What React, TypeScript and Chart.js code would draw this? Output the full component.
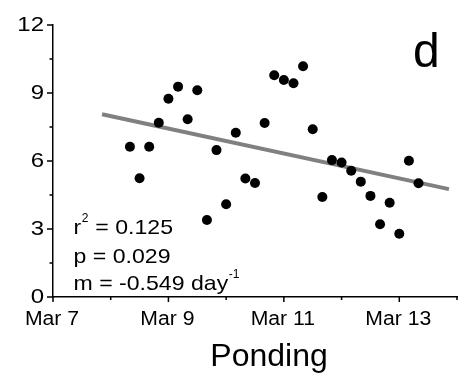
import React, { useEffect, useRef } from "react";
import { Chart, registerables } from "chart.js";

Chart.register(...registerables);

// Data (x: day of March, y: value)
const xDays = [8.333, 8.5, 8.667, 8.833, 9.0, 9.167, 9.333, 9.5, 9.667, 9.833, 10.0, 10.167, 10.333, 10.5, 10.667, 10.833, 11.0, 11.167, 11.333, 11.5, 11.667, 11.833, 12.0, 12.167, 12.333, 12.5, 12.667, 12.833, 13.0, 13.167, 13.333];
const yValues = [6.63, 5.24, 6.63, 7.69, 8.75, 9.28, 7.84, 9.12, 3.4, 6.48, 4.09, 7.25, 5.23, 5.03, 7.68, 9.78, 9.57, 9.43, 10.18, 7.4, 4.41, 6.04, 5.93, 5.57, 5.09, 4.46, 3.21, 4.16, 2.79, 6.01, 5.02];
const fitX = [7.85, 13.86];
const fitY = [8.06, 4.76];

const xMajorTicks = [7, 9, 11, 13];
const xMinorTicks = [8, 10, 12, 14];
const xTickLabels = ["Mar 7", "Mar 9", "Mar 11", "Mar 13"];
const yMajorTicks = [0, 3, 6, 9, 12];
const yMinorTicks = [1.5, 4.5, 7.5, 10.5];
const yTickLabels = ["0", "3", "6", "9", "12"];

const statsLines = [
  { main: "r", sup: "2", rest: " = 0.125" },
  { main: "p = 0.029", sup: "", rest: "" },
  { main: "m = -0.549 day", sup: "-1", rest: "" },
];

const FONT = "'Liberation Sans', Arial, sans-serif";

function drawText(ctx: CanvasRenderingContext2D, text: string, x: number, y: number, size: number, sx: number, align: CanvasTextAlign, baseline: CanvasTextBaseline) {
  ctx.save();
  ctx.font = `${size}px ${FONT}`;
  ctx.textAlign = align;
  ctx.textBaseline = baseline;
  ctx.translate(x, y);
  ctx.scale(sx, 1);
  ctx.fillText(text, 0, 0);
  ctx.restore();
}

const overlayPlugin = {
  id: "overlay",
  afterDraw(chart: any) {
    const ctx: CanvasRenderingContext2D = chart.ctx;
    const xs = chart.scales.x;
    const ys = chart.scales.y;
    const area = chart.chartArea;
    ctx.save();
    ctx.strokeStyle = "#000";
    ctx.lineWidth = 1.5;
    ctx.beginPath();
    xMajorTicks.forEach((v) => {
      const px = xs.getPixelForValue(v);
      ctx.moveTo(px, area.bottom);
      ctx.lineTo(px, area.bottom + 5);
    });
    xMinorTicks.forEach((v) => {
      const px = xs.getPixelForValue(v);
      ctx.moveTo(px, area.bottom);
      ctx.lineTo(px, area.bottom + 3);
    });
    yMajorTicks.forEach((v) => {
      const py = ys.getPixelForValue(v);
      ctx.moveTo(area.left, py);
      ctx.lineTo(area.left - 6, py);
    });
    yMinorTicks.forEach((v) => {
      const py = ys.getPixelForValue(v);
      ctx.moveTo(area.left, py);
      ctx.lineTo(area.left - 3.5, py);
    });
    ctx.stroke();

    ctx.fillStyle = "#000";
    yMajorTicks.forEach((v, i) => {
      const py = ys.getPixelForValue(v);
      drawText(ctx, yTickLabels[i], 44, py, 20, 1.2, "right", "middle");
    });
    xMajorTicks.forEach((v, i) => {
      const px = xs.getPixelForValue(v);
      drawText(ctx, xTickLabels[i], px - 1, 325, 20, 1.06, "center", "alphabetic");
    });
    drawText(ctx, "Ponding", 269, 366, 32, 1, "center", "alphabetic");
    drawText(ctx, "d", 413, 67, 48, 1, "left", "alphabetic");

    const baselines = [233.5, 262.5, 289.5];
    const sx = 1.1;
    const size = 21;
    statsLines.forEach((ln, i) => {
      const y = baselines[i];
      let x = 73.5;
      ctx.font = `${size}px ${FONT}`;
      drawText(ctx, ln.main, x, y, size, sx, "left", "alphabetic");
      x += ctx.measureText(ln.main).width * sx;
      if (ln.sup) {
        ctx.font = `12px ${FONT}`;
        drawText(ctx, ln.sup, x + 0.5, y - 12, 12, 1, "left", "alphabetic");
        x += ctx.measureText(ln.sup).width + 1;
      }
      if (ln.rest) {
        drawText(ctx, ln.rest, x, y, size, sx, "left", "alphabetic");
      }
    });
    ctx.restore();
  },
};

export default function App() {
  const ref = useRef<HTMLCanvasElement | null>(null);
  useEffect(() => {
    if (!ref.current) return;
    const points = xDays.map((x, i) => ({ x, y: yValues[i] }));
    const fit = fitX.map((x, i) => ({ x, y: fitY[i] }));
    const chart = new Chart(ref.current, {
      type: "scatter",
      data: {
        datasets: [
          {
            data: points,
            backgroundColor: "#000",
            borderWidth: 0,
            pointRadius: 5,
            order: 1,
          },
          {
            type: "line",
            data: fit,
            borderColor: "#808080",
            borderWidth: 4,
            pointRadius: 0,
            showLine: true,
            fill: false,
            order: 2,
          } as any,
        ],
      },
      options: {
        responsive: false,
        animation: false,
        layout: { padding: { top: 25, right: 9, left: 0, bottom: 0 } },
        plugins: { legend: { display: false }, tooltip: { enabled: false } },
        scales: {
          x: {
            type: "linear",
            min: 7,
            max: 14,
            ticks: { display: false },
            grid: { display: false },
            border: { display: true, color: "#000", width: 1.5 },
            afterFit: (s: any) => {
              s.height = 80;
            },
          },
          y: {
            type: "linear",
            min: 0,
            max: 12,
            ticks: { display: false },
            grid: { display: false },
            border: { display: true, color: "#000", width: 1.5 },
            afterFit: (s: any) => {
              s.width = 53;
            },
          },
        },
      },
      plugins: [overlayPlugin],
    });
    return () => chart.destroy();
  }, []);
  return (
    <div style={{ position: "fixed", left: 0, top: 0, width: 466, height: 377, background: "#fff" }}>
      <canvas ref={ref} width={466} height={377} style={{ width: 466, height: 377, display: "block" }} />
    </div>
  );
}
